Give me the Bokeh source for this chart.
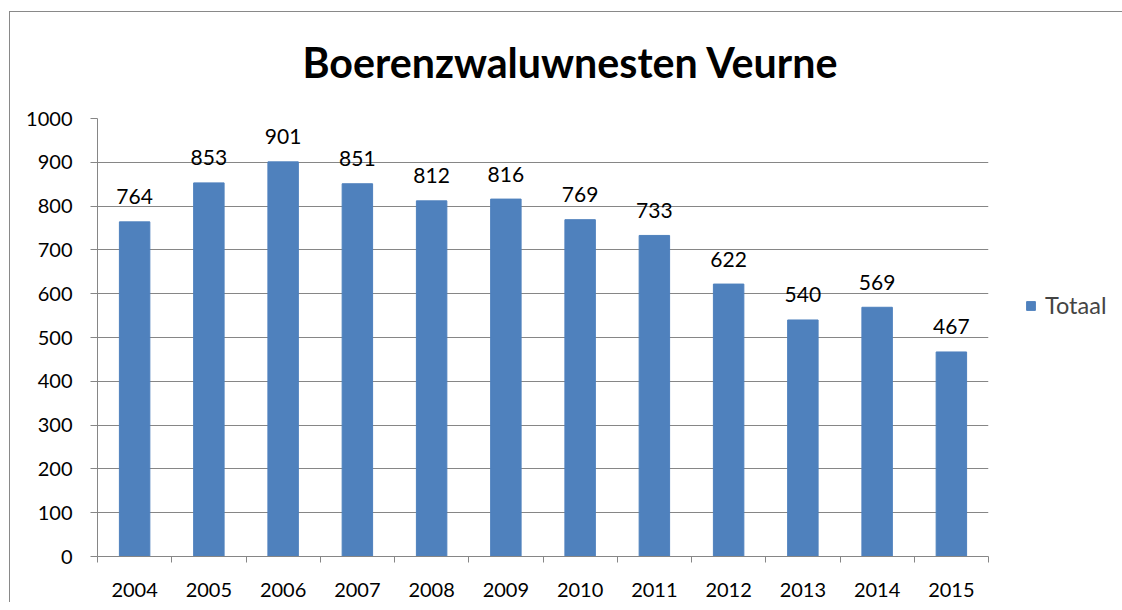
from bokeh.plotting import figure
from bokeh.models import (ColumnDataSource, FixedTicker, Legend, LegendItem, Title)
from bokeh.core.properties import value
from bokeh.embed import file_html
from bokeh.resources import INLINE

years = ["2004", "2005", "2006", "2007", "2008", "2009", "2010", "2011",
         "2012", "2013", "2014", "2015"]
totals = [764, 853, 901, 851, 812, 816, 769, 733, 622, 540, 569, 467]
y_ticks = [0, 100, 200, 300, 400, 500, 600, 700, 800, 900, 1000]

FONT = "Lato"
BAR = "#4F81BD"
GRID = "#868686"
EDGE = "#898989"

centers = [i + 0.5 for i in range(len(years))]
src = ColumnDataSource(dict(x=centers, top=totals, year=years,
                            lab=[str(v) for v in totals]))

p = figure(frame_width=891, frame_height=438, output_backend="svg",
           toolbar_location=None,
           x_range=(0, len(years)), y_range=(0, 1000),
           min_border_left=88, min_border_right=126,
           min_border_top=117, min_border_bottom=46)
p.styles = {
    "margin-left": "9px", "margin-top": "1px",
    "background": (f"linear-gradient({EDGE},{EDGE}) 0 10px / 100% 1px no-repeat, "
                   f"linear-gradient({EDGE},{EDGE}) 0 10px / 1px 100% no-repeat, white"),
}
p.title = Title(text="Boerenzwaluwnesten Veurne", align="left", offset=205,
                text_font=FONT, text_font_size="41.2px", text_font_style="bold",
                text_color="black", standoff=64)
p.outline_line_color = None
p.background_fill_color = "white"
p.border_fill_alpha = 0

r = p.vbar(x="x", top="top", width=0.41, source=src, color=BAR)
p.text(x="x", y="top", text="lab", source=src, text_align="center",
       text_baseline="alphabetic", y_offset=-25, text_font=value(FONT),
       text_font_size="21px", text_color="black")

# x axis
p.xaxis.ticker = FixedTicker(ticks=centers, minor_ticks=list(range(len(years) + 1)))
p.xaxis.major_label_overrides = {c: y for c, y in zip(centers, years)}
p.xaxis.major_tick_out = 0
p.xaxis.major_tick_in = 0
p.xaxis.minor_tick_out = 6
p.xaxis.minor_tick_in = 0
p.xaxis.minor_tick_line_color = GRID
p.xaxis.axis_line_color = GRID
p.xaxis.major_label_text_font = FONT
p.xaxis.major_label_text_font_size = "20px"
p.xaxis.major_label_text_color = "black"
p.xaxis.major_label_standoff = 20

# y axis
p.yaxis.ticker = FixedTicker(ticks=y_ticks)
p.yaxis.major_tick_out = 7
p.yaxis.major_tick_in = 0
p.yaxis.minor_tick_line_color = None
p.yaxis.major_tick_line_color = GRID
p.yaxis.axis_line_color = GRID
p.yaxis.major_label_text_font = FONT
p.yaxis.major_label_text_font_size = "20px"
p.yaxis.major_label_text_color = "black"
p.yaxis.major_label_standoff = 18

p.xgrid.grid_line_color = None
p.ygrid.ticker = FixedTicker(ticks=y_ticks)
p.ygrid.grid_line_color = GRID

legend = Legend(items=[LegendItem(label="Totaal", renderers=[r])],
                location=(37, 237), border_line_color=None,
                background_fill_alpha=0, label_text_font=FONT,
                label_text_font_size="23.5px", glyph_width=11, glyph_height=11,
                padding=0, margin=0, label_standoff=9)
p.add_layout(legend, "right")

open("out.html", "w").write(file_html(p, INLINE))
